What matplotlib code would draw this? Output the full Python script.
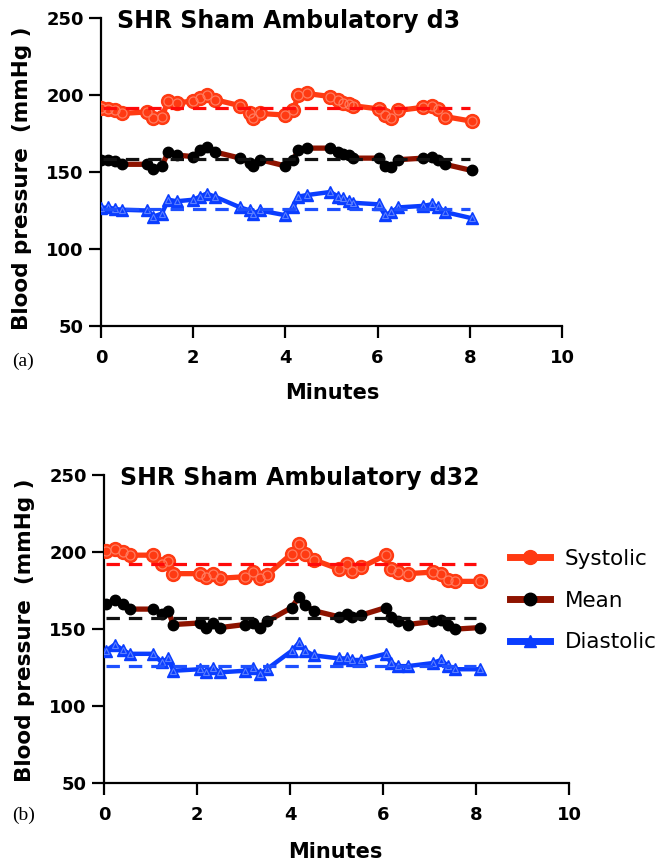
import matplotlib
matplotlib.use("Agg")
import matplotlib.pyplot as plt
from matplotlib.lines import Line2D

W, H = 661, 865

# ---------------- data ----------------
t_top = [0.0, 0.15, 0.3, 0.45, 0.99, 1.13, 1.32, 1.46, 1.64, 2.0, 2.15, 2.29, 2.47,
         3.02, 3.23, 3.30, 3.45, 3.99, 4.17, 4.28, 4.46, 4.97, 5.15, 5.26, 5.37, 5.47,
         6.02, 6.16, 6.30, 6.45, 6.99, 7.17, 7.32, 7.46, 8.04]
sys_top = [191.5, 191, 190, 188, 189, 185, 186, 196, 195, 196, 198, 200, 197,
           193, 188, 185, 188, 187, 190, 200, 201, 199, 197, 195, 194, 193,
           191, 187, 185, 190, 192, 193, 191, 186, 183]
mean_top = [158, 157.5, 157, 155, 155, 152, 154, 163, 161, 160, 164, 166, 163,
            159, 156, 154, 158, 154, 158, 164, 165.5, 165.5, 163, 162, 161, 159,
            159, 154, 153, 158, 159, 160, 158, 155, 151]
dia_top = [126.5, 127, 126, 125.5, 125, 121, 123, 132, 131, 132, 134, 136, 134,
           127, 125, 123, 125, 122, 127, 134, 135, 137, 134, 133, 131, 130,
           129, 122, 124, 127, 128, 129, 127, 124, 120]
avg_top = [191.5, 158.5, 126]

t_bot = [0.05, 0.23, 0.41, 0.55, 1.06, 1.24, 1.38, 1.49, 2.06, 2.20, 2.34, 2.49,
         3.03, 3.21, 3.35, 3.50, 4.04, 4.19, 4.33, 4.51, 5.05, 5.23, 5.34, 5.52,
         6.06, 6.17, 6.32, 6.53, 7.07, 7.25, 7.40, 7.54, 8.08]
sys_bot = [201, 202, 200, 198, 198, 192.5, 194, 186, 186, 184, 186, 183,
           184, 187, 183, 185, 199, 205, 199, 195, 189, 192, 188, 190,
           198, 189, 187, 186, 187, 186, 182, 181, 181]
mean_bot = [166, 169, 166, 163, 163, 160, 162, 153, 154, 151, 154, 151,
            153, 154, 151, 155, 164, 171, 165.5, 162, 158, 160, 158, 159,
            164, 158, 155, 153, 155, 156, 153, 150, 151]
dia_bot = [136, 140, 136.5, 134, 134, 128.5, 131, 123, 124, 122, 125, 122,
           123, 125, 121, 124, 136, 141, 136, 133, 131, 131, 130, 130,
           134, 128, 126, 126, 128, 130, 126, 124, 124]
avg_bot = [192.5, 157, 126]

series_names = ["Systolic", "Mean", "Diastolic"]
titles = ["SHR Sham Ambulatory d3", "SHR Sham Ambulatory d32"]
panel_tags = ["(a)", "(b)"]
x_ticks = [0, 2, 4, 6, 8, 10]
y_ticks = [50, 100, 150, 200, 250]
avg_span = [0.05, 8.0]

# ---------------- styles ----------------
C_SYS = "#FF3A12"
C_SYS_IN = "#FF7B5E"
C_MEAN_LINE = "#8E1300"
C_DIA = "#0A3DFF"
C_DIA_IN = "#5C80FF"
DASH_COLORS = ["#FF0A0A", "#111111", "#1E50FF"]

fig = plt.figure(figsize=(W / 100, H / 100), dpi=100)


def fx(px):
    return px / W


def fy(py):
    return 1 - py / H


def draw_panel(rect, t, s, m, d, avgs):
    ax = fig.add_axes(rect)
    ax.plot(t, s, color=C_SYS, lw=3.8, marker="o", ms=10, mfc=C_SYS,
            mec=C_SYS, zorder=3, solid_capstyle="round")
    ax.plot(t, s, ls="none", marker="o", ms=6.5, mfc="none", mec=C_SYS_IN,
            mew=0.9, zorder=3.1)
    ax.plot(t, m, color=C_MEAN_LINE, lw=3.8, marker="o", ms=7.5, mfc="black",
            mec="black", zorder=3, solid_capstyle="round")
    ax.plot(t, d, color=C_DIA, lw=3.2, marker="^", ms=8, mfc=C_DIA,
            mec=C_DIA, zorder=3, solid_capstyle="round")
    ax.plot(t, d, ls="none", marker="^", ms=4.5, mfc="none", mec=C_DIA_IN,
            mew=0.8, zorder=3.1)
    for v, c in zip(avgs, DASH_COLORS):
        ax.plot(avg_span, [v, v], color=c, lw=2.3, ls=(0, (4.2, 2.8)), zorder=4)
    ax.set_xlim(0, 10)
    ax.set_ylim(50, 250)
    ax.set_xticks(x_ticks)
    ax.set_yticks(y_ticks)
    for sp in ["top", "right"]:
        ax.spines[sp].set_visible(False)
    for sp in ["left", "bottom"]:
        ax.spines[sp].set_linewidth(1.6)
    ax.tick_params(axis="both", direction="out", length=8.5, width=1.6,
                   labelsize=13)
    ax.tick_params(axis="x", pad=8)
    ax.tick_params(axis="y", pad=4)
    for lab in ax.get_xticklabels() + ax.get_yticklabels():
        lab.set_fontweight("bold")
    ax.patch.set_alpha(0)
    for sp in ax.spines.values():
        sp.set_clip_on(False)
    return ax


ax1 = draw_panel([fx(101), fy(326), 461 / W, 308 / H], t_top, sys_top, mean_top, dia_top, avg_top)
ax2 = draw_panel([fx(104), fy(783.3), 465 / W, 308.3 / H], t_bot, sys_bot, mean_bot, dia_bot, avg_bot)

# titles
fig.text(fx(117), fy(21), titles[0], fontsize=17, fontweight="bold",
         ha="left", va="center")
fig.text(fx(120), fy(478), titles[1], fontsize=17, fontweight="bold",
         ha="left", va="center")

# axis labels
for (xl, yl), (yx, yy) in [((332, 393), (22, 178)), ((335, 852), (25, 630))]:
    fig.text(fx(xl), fy(yl), "Minutes", fontsize=15, fontweight="bold",
             ha="center", va="center")
    fig.text(fx(yx), fy(yy), "Blood pressure  (mmHg )", fontsize=15.5,
             fontweight="bold", rotation=90, ha="center", va="center")

# panel tags
fig.text(fx(23), fy(361), panel_tags[0], fontsize=14, family="Liberation Serif",
         ha="center", va="center")
fig.text(fx(24), fy(815), panel_tags[1], fontsize=14, family="Liberation Serif",
         ha="center", va="center")

# legend
handles = [
    Line2D([], [], color=C_SYS, lw=5, marker="o", ms=10, mfc=C_SYS, mec=C_SYS),
    Line2D([], [], color=C_MEAN_LINE, lw=5, marker="o", ms=9, mfc="black", mec="black"),
    Line2D([], [], color=C_DIA, lw=5, marker="^", ms=8, mfc=C_DIA, mec=C_DIA),
]
fig.legend(handles, series_names, loc="upper left",
           bbox_to_anchor=(fx(510), fy(549)), frameon=False, fontsize=15.5,
           handlelength=1.85, handletextpad=0.7, labelspacing=1.0,
           borderpad=0, borderaxespad=0)

fig.savefig("out.png", dpi=100)
